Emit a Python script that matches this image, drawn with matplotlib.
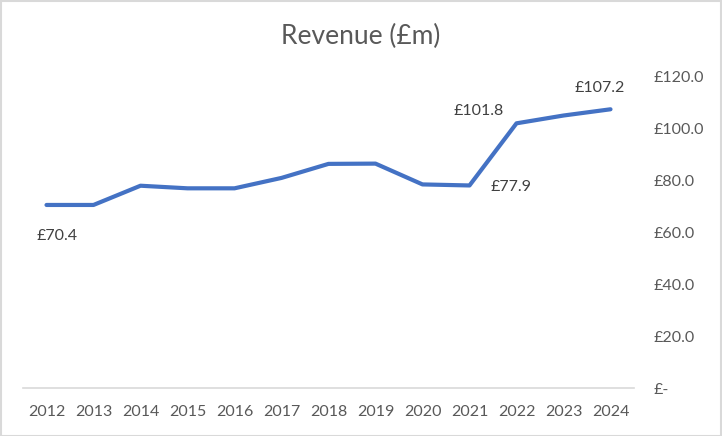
import matplotlib
matplotlib.use("Agg")
import matplotlib.pyplot as plt
from matplotlib.patches import Rectangle

years = ["2012", "2013", "2014", "2015", "2016", "2017", "2018", "2019",
         "2020", "2021", "2022", "2023", "2024"]
revenue = [70.4, 70.4, 77.8, 76.8, 76.8, 80.8, 86.2, 86.3, 78.3, 77.9, 101.8, 104.8, 107.2]
y_ticks = [0, 20, 40, 60, 80, 100, 120]
y_labels = ["£-", "£20.0", "£40.0", "£60.0", "£80.0", "£100.0", "£120.0"]
# labelled points: index, text, offset (points)
labelled = [(0, "£70.4", (8, -22)), (9, "£77.9", (30, -1)), (10, "£101.8", (-27, 9)),
            (12, "£107.2", (-8, 15))]

plt.rcParams['font.family'] = ['Lato', 'DejaVu Sans']
W, H = 722, 436
fig = plt.figure(figsize=(W / 100, H / 100), dpi=100)
fig.patches.append(Rectangle((0.5 / W, 0.5 / H), 1 - 2 / W, 1 - 2 / H, transform=fig.transFigure,
                             fill=False, edgecolor="#d9d9d9", linewidth=1.5))

ax = fig.add_axes([23 / W, 1 - 388 / H, (634 - 23) / W, (388 - 76) / H])
x = list(range(len(years)))
ax.plot(x, revenue, color="#4472C4", linewidth=3.0, solid_capstyle="round", solid_joinstyle="round")
ax.set_xlim(-0.5, len(years) - 0.5)
ax.set_ylim(0, 120)
ax.set_xticks(x)
ax.set_xticklabels(years)
ax.set_yticks(y_ticks)
ax.set_yticklabels(y_labels)
ax.yaxis.tick_right()
for s in ["top", "left", "right"]:
    ax.spines[s].set_visible(False)
ax.spines["bottom"].set_color("#d9d9d9")
ax.spines["bottom"].set_linewidth(1.2)
ax.tick_params(axis="both", length=0, colors="#595959", labelsize=11.5)
ax.tick_params(axis="x", pad=12)
ax.tick_params(axis="y", pad=14)
for lab in ax.get_yticklabels():
    lab.set_horizontalalignment("left")

for i, t, off in labelled:
    ax.annotate(t, (x[i], revenue[i]), xytext=off, textcoords="offset points",
                ha="center", va="center", fontsize=11.5, color="#404040")

fig.text(361 / W, 1 - 36 / H, "Revenue (£m)", ha="center", va="center", fontsize=19, color="#595959")

fig.savefig("out.png", dpi=100)
